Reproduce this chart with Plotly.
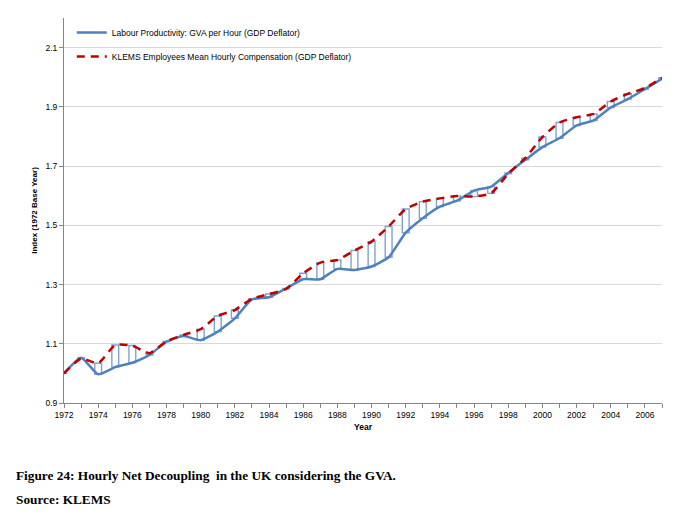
import plotly.graph_objects as go

years = list(range(1972, 2008))
productivity = [1.000, 1.053, 0.997, 1.021, 1.036, 1.062, 1.107, 1.126, 1.112, 1.141,
                1.186, 1.250, 1.257, 1.287, 1.318, 1.318, 1.353, 1.349, 1.361, 1.392,
                1.475, 1.524, 1.563, 1.583, 1.617, 1.631, 1.677, 1.721, 1.764, 1.794,
                1.837, 1.854, 1.898, 1.926, 1.960, 1.995]
compensation = [1.000, 1.050, 1.034, 1.096, 1.094, 1.068, 1.108, 1.130, 1.149, 1.194,
                1.214, 1.252, 1.268, 1.285, 1.338, 1.374, 1.383, 1.415, 1.445, 1.496,
                1.555, 1.580, 1.591, 1.599, 1.597, 1.608, 1.674, 1.727, 1.798, 1.847,
                1.865, 1.876, 1.918, 1.944, 1.963, 1.998]
y_ticks = [0.9, 1.1, 1.3, 1.5, 1.7, 1.9, 2.1]
x_labels = [str(y) if y % 2 == 0 else "" for y in years]

up_x = [y for y, p, c in zip(years, productivity, compensation) if c >= p]
up_base = [p for p, c in zip(productivity, compensation) if c >= p]
up_h = [c - p for p, c in zip(productivity, compensation) if c >= p]
dn_x = [y for y, p, c in zip(years, productivity, compensation) if c < p]
dn_base = [c for p, c in zip(productivity, compensation) if c < p]
dn_h = [p - c for p, c in zip(productivity, compensation) if c < p]

fig = go.Figure()
fig.add_trace(go.Bar(x=up_x, y=up_h, base=up_base, width=0.4, showlegend=False,
                     marker=dict(color="white", line=dict(color="#7FA3D0", width=1.4))))
fig.add_trace(go.Bar(x=dn_x, y=dn_h, base=dn_base, width=0.4, showlegend=False,
                     marker=dict(color="white", line=dict(color="#7FA3D0", width=1.2),
                                 pattern=dict(shape="\\", fgcolor="#95B3D7", bgcolor="white", size=3, solidity=0.3))))
fig.add_trace(go.Scatter(x=years, y=productivity, mode="lines",
                         name="Labour Productivity: GVA per Hour (GDP Deflator)",
                         legendgroup="a",
                         line=dict(color="#4F81BD", width=2.5, shape="spline", smoothing=0.5)))
fig.add_trace(go.Scatter(x=years, y=compensation, mode="lines",
                         name="KLEMS Employees Mean Hourly Compensation (GDP Deflator)",
                         legendgroup="b",
                         line=dict(color="#C00000", width=2.5, dash="8px,6px", shape="spline", smoothing=0.5)))

fig.update_layout(
    width=687, height=514,
    margin=dict(l=56, r=33, t=10, b=119, autoexpand=False),
    paper_bgcolor="white", plot_bgcolor="white",
    barmode="overlay",
    font=dict(family="Liberation Sans", size=8.5, color="#000000"),
    legend=dict(x=0.013, y=1.0, xanchor="left", yanchor="top", bgcolor="rgba(0,0,0,0)",
                font=dict(size=8.5), tracegroupgap=5, itemwidth=30),
    xaxis=dict(range=[1972, 2007], tickvals=years, ticktext=x_labels, tickangle=0,
               showline=True, linecolor="#868686", linewidth=1, ticks="outside",
               ticklen=4, tickcolor="#868686", showgrid=False, zeroline=False,
               title=dict(text="<b>Year</b>", font=dict(size=8.5), standoff=4)),
    yaxis=dict(range=[0.9, 2.2], tickvals=y_ticks, ticktext=[f"{v:.1f}" for v in y_ticks],
               showline=True, linecolor="#868686", linewidth=1, ticks="outside",
               ticklen=4, tickcolor="#868686", showgrid=True, gridcolor="#D9D9D9",
               zeroline=False,
               title=dict(text="<b>Index (1972 Base Year)</b>", font=dict(size=8), standoff=6)),
    annotations=[
        dict(text="<b>Figure 24: Hourly Net Decoupling  in the UK considering the GVA.</b>",
             xref="paper", yref="paper", x=-0.0836, y=-0.1896, xanchor="left", yanchor="middle",
             showarrow=False, font=dict(family="Liberation Serif", size=13.3, color="black")),
        dict(text="<b>Source: KLEMS</b>",
             xref="paper", yref="paper", x=-0.0836, y=-0.2495, xanchor="left", yanchor="middle",
             showarrow=False, font=dict(family="Liberation Serif", size=13.3, color="black")),
    ],
)
fig.write_html("out.html")
